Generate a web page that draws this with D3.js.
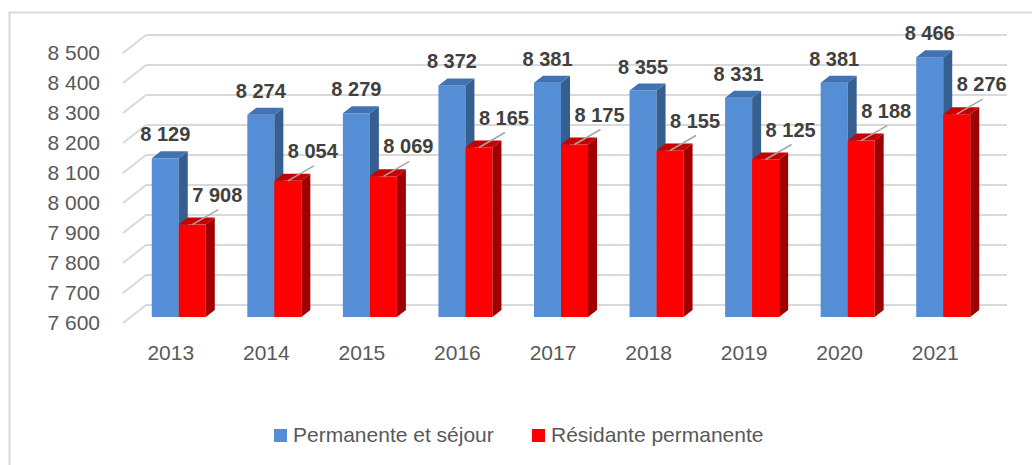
<!DOCTYPE html>
<html>
<head>
<meta charset="utf-8">
<script src="https://cdn.jsdelivr.net/npm/d3@7"></script>
<style>
  body { margin: 0; background: #fff; }
  svg { display: block; font-family: "Liberation Sans", Arial, sans-serif; }
</style>
</head>
<body>
<svg id="chart"></svg>
<script>
const width = 1032;
const height = 465;

// data
const years = ["2013", "2014", "2015", "2016", "2017", "2018", "2019", "2020", "2021"];
const permanente = [8129, 8274, 8279, 8372, 8381, 8355, 8331, 8381, 8466];
const residante = [7908, 8054, 8069, 8165, 8175, 8155, 8125, 8188, 8276];
const yTicks = [7600, 7700, 7800, 7900, 8000, 8100, 8200, 8300, 8400, 8500];
const seriesNames = ["Permanente et séjour", "Résidante permanente"];

const fmt = v => d3.format(",")(v).replace(",", " ");

// 3D-ish geometry
const wallDx = 23, wallDy = -18;   // depth of the back wall
const barDx = 9, barDy = -7;       // depth of one column
const barW = 27;

const svg = d3.select("#chart")
    .attr("width", width)
    .attr("height", height);

// outer frame (only top and left edges are in view)
svg.append("rect")
    .attr("x", 9.5).attr("y", 12.5)
    .attr("width", 1100).attr("height", 600)
    .attr("fill", "none")
    .attr("stroke", "#d9d9d9")
    .attr("stroke-width", 2);

const xScale = d3.scaleBand()
    .domain(years)
    .range([123, 983]);

// y at the front edge of the floor (where tick labels sit)
const yScale = d3.scaleLinear()
    .domain([7600, 8500])
    .range([323, 53]);
const yBar = v => yScale(v) - 6;

// gridlines: back wall + left wall diagonal
const grid = svg.append("g")
    .attr("stroke", "#d9d9d9")
    .attr("stroke-width", 2)
    .attr("fill", "none");
grid.selectAll("line.back")
    .data(yTicks)
    .enter()
    .append("line")
        .attr("x1", xScale.range()[0] + wallDx)
        .attr("x2", xScale.range()[1] + wallDx + 1)
        .attr("y1", d => yScale(d) + wallDy)
        .attr("y2", d => yScale(d) + wallDy);
grid.selectAll("line.side")
    .data(yTicks)
    .enter()
    .append("line")
        .attr("x1", xScale.range()[0])
        .attr("x2", xScale.range()[0] + wallDx)
        .attr("y1", d => yScale(d))
        .attr("y2", d => yScale(d) + wallDy);

// y axis labels
const yAxis = d3.axisLeft(yScale)
    .tickValues(yTicks)
    .tickFormat(fmt)
    .tickSize(0)
    .tickPadding(0);
svg.append("g")
    .attr("transform", "translate(100, 0)")
    .call(yAxis)
    .call(g => g.select(".domain").remove())
    .selectAll("text")
        .attr("fill", "#595959")
        .style("font-size", "21px")
        .style("font-family", "'Liberation Sans', Arial, sans-serif");

// x axis labels
const xAxis = d3.axisBottom(xScale).tickSize(0).tickPadding(0);
svg.append("g")
    .attr("transform", "translate(0, 345)")
    .call(xAxis)
    .call(g => g.select(".domain").remove())
    .selectAll("text")
        .attr("fill", "#595959")
        .style("font-size", "21px")
        .style("font-family", "'Liberation Sans', Arial, sans-serif");

const colors = [
    { front: "#558ed5", side: "#365f91", top: "#4173b4" },
    { front: "#ff0000", side: "#a00000", top: "#c80000" }
];

const rows = years.map((y, i) => ({ year: y, values: [permanente[i], residante[i]] }));
const base = yBar(7600);

const groups = svg.selectAll("g.cat")
    .data(rows)
    .enter()
    .append("g")
    .attr("class", "cat");

[0, 1].forEach(s => {
    const x0 = d => xScale(d.year) + xScale.bandwidth() / 2 + 8 - barW + s * barW;
    const yt = d => yBar(d.values[s]);
    groups.append("rect")
        .attr("x", x0)
        .attr("y", yt)
        .attr("width", barW)
        .attr("height", d => base - yt(d))
        .attr("fill", colors[s].front);
    groups.append("polygon")
        .attr("points", d => {
            const x = x0(d) + barW, t = yt(d);
            return [[x, t], [x + barDx, t + barDy], [x + barDx, base + barDy], [x, base]].join(" ");
        })
        .attr("fill", colors[s].side);
    groups.append("polygon")
        .attr("points", d => {
            const x = x0(d), t = yt(d);
            return [[x, t], [x + barDx, t + barDy], [x + barW + barDx, t + barDy], [x + barW, t]].join(" ");
        })
        .attr("fill", colors[s].top);
});

// data labels
const lbl = svg.append("g")
    .style("font-size", "20px")
    .style("font-weight", "bold")
    .attr("fill", "#404040")
    .attr("text-anchor", "middle");

lbl.selectAll("text.blue")
    .data(rows)
    .enter()
    .append("text")
        .attr("x", d => xScale(d.year) + xScale.bandwidth() / 2 + 8 - barW / 2)
        .attr("y", d => yBar(d.values[0]) - 17)
        .text(d => fmt(d.values[0]));

lbl.selectAll("line.lead")
    .data(rows)
    .enter()
    .append("line")
        .attr("x1", d => xScale(d.year) + xScale.bandwidth() / 2 + 8 + barW / 2)
        .attr("y1", d => yBar(d.values[1]))
        .attr("x2", d => xScale(d.year) + xScale.bandwidth() / 2 + 8 + barW / 2 + 26)
        .attr("y2", d => yBar(d.values[1]) - 15)
        .attr("stroke", "#a6a6a6")
        .attr("stroke-width", 1.5);

lbl.selectAll("text.red")
    .data(rows)
    .enter()
    .append("text")
        .attr("x", d => xScale(d.year) + xScale.bandwidth() / 2 + 8 + barW / 2 + 25)
        .attr("y", d => yBar(d.values[1]) - 23)
        .text(d => fmt(d.values[1]));

// legend
const legendX = [274, 532];
const legend = svg.selectAll("g.legend")
    .data(seriesNames)
    .enter()
    .append("g")
    .attr("transform", (d, i) => "translate(" + legendX[i] + ", 429)");
legend.append("rect")
    .attr("width", 13)
    .attr("height", 13)
    .attr("fill", (d, i) => colors[i].front);
legend.append("text")
    .attr("x", 19)
    .attr("y", 13)
    .attr("fill", "#595959")
    .style("font-size", "21px")
    .text(d => d);
</script>
</body>
</html>
